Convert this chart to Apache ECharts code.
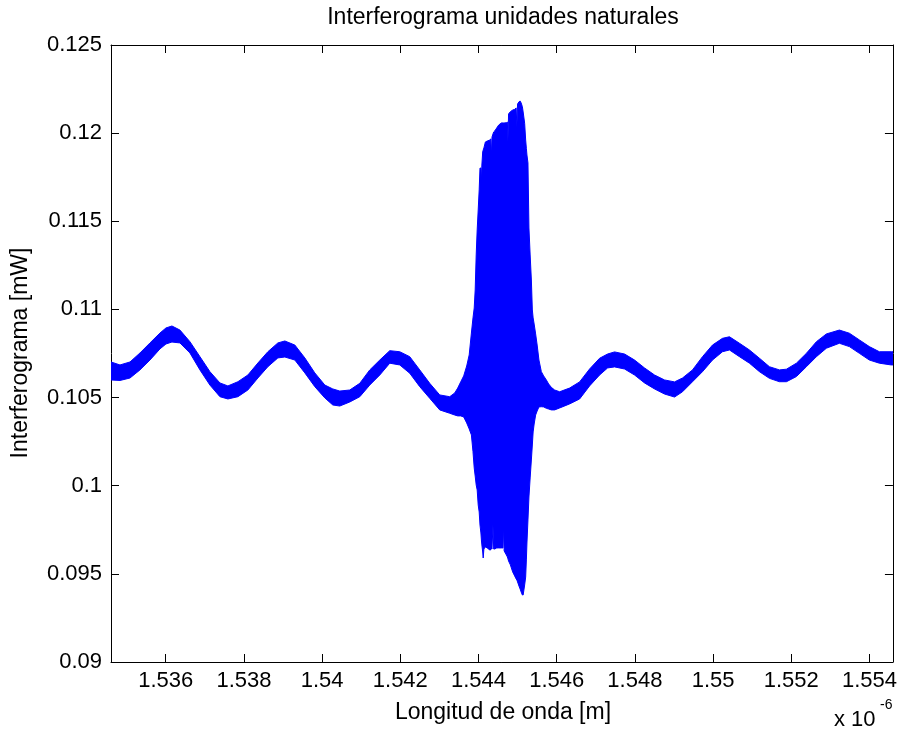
<!DOCTYPE html>
<html>
<head>
<meta charset="utf-8">
<title>Interferograma unidades naturales</title>
<script src="https://cdn.jsdelivr.net/npm/echarts@6.0.0/dist/echarts.min.js"></script>
<style>
  html, body { margin: 0; padding: 0; background: #ffffff; }
  #chart { width: 900px; height: 738px; }
</style>
</head>
<body>
<div id="chart"></div>
<script>
// Wavelength samples, in units of 1e-6 m
const wavelength = [
  1.534600, 1.534830, 1.535086, 1.535341, 1.535597, 1.535852, 1.536006, 1.536159, 1.536363, 1.536619,
  1.536875, 1.537130, 1.537386, 1.537590, 1.537846, 1.538101, 1.538357, 1.538612, 1.538868, 1.539047,
  1.539302, 1.539558, 1.539813, 1.540069, 1.540273, 1.540452, 1.540708, 1.540964, 1.541219, 1.541475,
  1.541730, 1.541986, 1.542241, 1.542497, 1.542752, 1.543008, 1.543264, 1.543391,
  // interference burst
  1.543468, 1.543545, 1.543621, 1.543698, 1.543762, 1.543818, 1.543859, 1.543890, 1.543915, 1.543941,
  1.543966, 1.543992, 1.544017, 1.544038, 1.544061, 1.544074, 1.544086, 1.544107, 1.544120, 1.544138,
  1.544176, 1.544222, 1.544286, 1.544314, 1.544329, 1.544345, 1.544370, 1.544388, 1.544414, 1.544465,
  1.544516, 1.544585, 1.544626, 1.544641, 1.544656, 1.544713, 1.544738, 1.544753, 1.544769, 1.544815,
  1.544874, 1.544925, 1.544963, 1.544981, 1.544999, 1.545035, 1.545065, 1.545091, 1.545122, 1.545142,
  1.545180, 1.545206, 1.545224, 1.545239, 1.545265, 1.545290, 1.545321, 1.545352, 1.545377, 1.545397,
  1.545423, 1.545461, 1.545500, 1.545546, 1.545607, 1.545666, 1.545735, 1.545794, 1.545863, 1.545947,
  // after the burst
  1.546075, 1.546330, 1.546586, 1.546841, 1.547097, 1.547301, 1.547480, 1.547736, 1.547991, 1.548247,
  1.548503, 1.548758, 1.549014, 1.549218, 1.549474, 1.549729, 1.549985, 1.550240, 1.550419, 1.550675,
  1.550930, 1.551186, 1.551441, 1.551697, 1.551876, 1.552131, 1.552387, 1.552643, 1.552898, 1.553230,
  1.553486, 1.553742, 1.553997, 1.554253, 1.554559, 1.554600
];

// Upper edge of the measured signal (mW)
const upperEnvelope = [
  0.10702, 0.10685, 0.10702, 0.10753, 0.10810, 0.10866, 0.10895, 0.10906, 0.10883, 0.10817,
  0.10732, 0.10647, 0.10583, 0.10566, 0.10590, 0.10628, 0.10696, 0.10760, 0.10810, 0.10821,
  0.10798, 0.10725, 0.10640, 0.10571, 0.10549, 0.10537, 0.10543, 0.10581, 0.10657, 0.10713,
  0.10766, 0.10760, 0.10732, 0.10657, 0.10581, 0.10515, 0.10505, 0.10526,
  0.10554, 0.10589, 0.10623, 0.10679, 0.10742, 0.10866, 0.10952, 0.11008, 0.11110, 0.11309,
  0.11451, 0.11564, 0.11678, 0.11802, 0.11802, 0.11723, 0.11819, 0.11893, 0.11904, 0.11916,
  0.11950, 0.11955, 0.11961, 0.11967, 0.11870, 0.11978, 0.11995, 0.12007, 0.12012, 0.12029,
  0.12046, 0.12058, 0.12058, 0.12058, 0.12058, 0.12059, 0.12063, 0.11955, 0.12109, 0.12122,
  0.12131, 0.12135, 0.12143, 0.12035, 0.12165, 0.12178, 0.12182, 0.12171, 0.12150, 0.12120,
  0.12056, 0.11961, 0.11914, 0.11876, 0.11831, 0.11462, 0.11309, 0.11167, 0.10997, 0.10952,
  0.10917, 0.10861, 0.10798, 0.10713, 0.10647, 0.10623, 0.10600, 0.10577, 0.10558, 0.10543,
  0.10533, 0.10554, 0.10589, 0.10662, 0.10723, 0.10747, 0.10759, 0.10747, 0.10713, 0.10668,
  0.10628, 0.10600, 0.10589, 0.10611, 0.10657, 0.10732, 0.10798, 0.10836, 0.10845, 0.10808,
  0.10770, 0.10723, 0.10675, 0.10657, 0.10661, 0.10695, 0.10751, 0.10817, 0.10861, 0.10883,
  0.10865, 0.10827, 0.10789, 0.10760, 0.10760, 0.10760
];

// Lower edge of the measured signal (mW)
const lowerEnvelope = [
  0.10600, 0.10597, 0.10611, 0.10657, 0.10713, 0.10776, 0.10804, 0.10815, 0.10810, 0.10753,
  0.10657, 0.10571, 0.10505, 0.10492, 0.10505, 0.10543, 0.10611, 0.10675, 0.10725, 0.10730,
  0.10713, 0.10640, 0.10562, 0.10498, 0.10458, 0.10452, 0.10475, 0.10505, 0.10571, 0.10628,
  0.10695, 0.10685, 0.10638, 0.10562, 0.10496, 0.10430, 0.10411, 0.10401,
  0.10396, 0.10396, 0.10390, 0.10356, 0.10322, 0.10288, 0.10193, 0.10101, 0.10055, 0.10004,
  0.09976, 0.09891, 0.09851, 0.09777, 0.09732, 0.09692, 0.09664, 0.09624, 0.09590, 0.09641,
  0.09653, 0.09647, 0.09636, 0.09636, 0.09647, 0.09641, 0.09777, 0.09641, 0.09641, 0.09647,
  0.09647, 0.09647, 0.09647, 0.09777, 0.09630, 0.09607, 0.09596, 0.09585, 0.09573, 0.09551,
  0.09511, 0.09488, 0.09471, 0.09465, 0.09454, 0.09431, 0.09414, 0.09397, 0.09380, 0.09380,
  0.09437, 0.09482, 0.09579, 0.09675, 0.09806, 0.09936, 0.10044, 0.10146, 0.10231, 0.10305,
  0.10350, 0.10401, 0.10424, 0.10447, 0.10448, 0.10447, 0.10439, 0.10435, 0.10430, 0.10430,
  0.10441, 0.10464, 0.10492, 0.10566, 0.10628, 0.10668, 0.10674, 0.10662, 0.10628, 0.10583,
  0.10549, 0.10520, 0.10503, 0.10533, 0.10590, 0.10647, 0.10713, 0.10760, 0.10770, 0.10732,
  0.10695, 0.10647, 0.10609, 0.10590, 0.10590, 0.10619, 0.10675, 0.10732, 0.10780, 0.10808,
  0.10789, 0.10751, 0.10713, 0.10695, 0.10685, 0.10685
];

// Axis ticks
const xTicks = [1.536, 1.538, 1.540, 1.542, 1.544, 1.546, 1.548, 1.550, 1.552, 1.554];
const xRange = [1.5346, 1.5546];
const yRange = [0.09, 0.125];
const yStep = 0.005;

const FONT = '"Liberation Sans", Arial, Helvetica, sans-serif';
const INK = '#000000';
const BLUE = '#0000ff';

const trimNum = v => String(parseFloat(Number(v).toFixed(3)));

// one row per sample: wavelength, upper edge, lower edge
const bandData = wavelength.map((w, i) => [w, upperEnvelope[i], lowerEnvelope[i]]);

// Fill the whole band between the upper and lower edges as one polygon
function renderBand(params, api) {
  if (params.dataIndexInside !== 0) return null;
  const n = params.dataInsideLength;
  const pts = [];
  for (let i = 0; i < n; i++) pts.push(api.coord([api.value(0, i), api.value(1, i)]));
  for (let i = n - 1; i >= 0; i--) pts.push(api.coord([api.value(0, i), api.value(2, i)]));
  return {
    type: 'polygon',
    shape: { points: pts },
    style: { fill: BLUE, stroke: BLUE, lineWidth: 1 }
  };
}

const chart = echarts.init(document.getElementById('chart'), null, { renderer: 'canvas' });

const axisLine = { show: true, onZero: false, lineStyle: { color: INK, width: 1 } };
const tickStyle = { show: true, inside: true, length: 8, lineStyle: { color: INK, width: 1 } };

chart.setOption({
  animation: false,
  backgroundColor: '#ffffff',
  grid: { left: 111, right: 5, top: 45, bottom: 76, containLabel: false },
  xAxis: [
    {
      type: 'value', position: 'bottom', min: xRange[0], max: xRange[1],
      axisLine: axisLine,
      axisTick: Object.assign({}, tickStyle, { customValues: xTicks }),
      axisLabel: {
        customValues: xTicks, formatter: trimNum, margin: 8,
        fontFamily: FONT, fontSize: 22, color: INK
      },
      splitLine: { show: false }
    },
    {
      type: 'value', position: 'top', min: xRange[0], max: xRange[1],
      axisLine: axisLine,
      axisTick: Object.assign({}, tickStyle, { customValues: xTicks }),
      axisLabel: { show: false },
      splitLine: { show: false }
    }
  ],
  yAxis: [
    {
      type: 'value', position: 'left', min: yRange[0], max: yRange[1], interval: yStep,
      axisLine: axisLine,
      axisTick: tickStyle,
      axisLabel: {
        formatter: trimNum, margin: 9, showMinLabel: true, showMaxLabel: true,
        fontFamily: FONT, fontSize: 22, color: INK
      },
      splitLine: { show: false }
    },
    {
      type: 'value', position: 'right', min: yRange[0], max: yRange[1], interval: yStep,
      axisLine: axisLine,
      axisTick: tickStyle,
      axisLabel: { show: false },
      splitLine: { show: false }
    }
  ],
  series: [
    {
      type: 'custom', name: 'Interferograma',
      xAxisIndex: 0, yAxisIndex: 0,
      data: bandData,
      encode: { x: 0, y: [1, 2] },
      renderItem: renderBand,
      silent: true,
      clip: true
    }
  ],
  graphic: [
    {
      type: 'text', x: 503, y: 18,
      style: {
        text: 'Interferograma unidades naturales', fill: INK,
        font: '23px ' + FONT, textAlign: 'center', textVerticalAlign: 'middle'
      }
    },
    {
      type: 'text', x: 503, y: 713,
      style: {
        text: 'Longitud de onda [m]', fill: INK,
        font: '23px ' + FONT, textAlign: 'center', textVerticalAlign: 'middle'
      }
    },
    {
      type: 'text', x: 21, y: 353, rotation: Math.PI / 2,
      style: {
        text: 'Interferograma [mW]', fill: INK,
        font: '23px ' + FONT, textAlign: 'center', textVerticalAlign: 'middle'
      }
    },
    {
      type: 'text', x: 834, y: 720,
      style: {
        text: 'x 10', fill: INK,
        font: '22px ' + FONT, textAlign: 'left', textVerticalAlign: 'middle'
      }
    },
    {
      type: 'text', x: 880, y: 705,
      style: {
        text: '-6', fill: INK,
        font: '14px ' + FONT, textAlign: 'left', textVerticalAlign: 'middle'
      }
    }
  ]
});
</script>
</body>
</html>
